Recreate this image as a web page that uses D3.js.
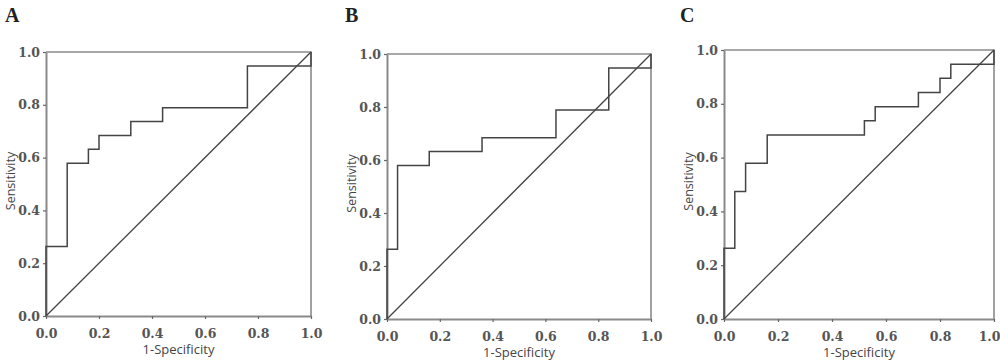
<!DOCTYPE html>
<html>
<head>
<meta charset="utf-8">
<script src="https://cdn.jsdelivr.net/npm/d3@7"></script>
<style>
  body { margin: 0; background: #fff; }
  svg { display: block; }
</style>
</head>
<body>
<svg width="1000" height="362"></svg>
<script>
// ROC data (1-specificity, sensitivity)
const aFpr = [0, 0, 0.08, 0.16, 0.20, 0.32, 0.44, 0.76, 1.0]
const aTpr = [0, 0.263, 0.579, 0.632, 0.684, 0.737, 0.789, 0.947, 1.0]

const bFpr = [0, 0, 0.04, 0.16, 0.36, 0.64, 0.84, 1.0]
const bTpr = [0, 0.263, 0.579, 0.632, 0.684, 0.789, 0.947, 1.0]

const cFpr = [0, 0, 0.04, 0.08, 0.16, 0.52, 0.56, 0.72, 0.80, 0.84, 1.0]
const cTpr = [0, 0.263, 0.474, 0.579, 0.684, 0.737, 0.789, 0.842, 0.895, 0.947, 1.0]

const tickValues = [0, 0.2, 0.4, 0.6, 0.8, 1.0]
const panelLetters = ["A", "B", "C"]

// panel boxes in page pixels
const panels = [
    { letter: panelLetters[0], fpr: aFpr, tpr: aTpr, x0: 46, x1: 311, top: 52, bottom: 316, lx: 5 },
    { letter: panelLetters[1], fpr: bFpr, tpr: bTpr, x0: 387, x1: 651, top: 54, bottom: 319, lx: 345 },
    { letter: panelLetters[2], fpr: cFpr, tpr: cTpr, x0: 724, x1: 994, top: 50, bottom: 319, lx: 680 }
]

const svg = d3.select("svg")
const axisColor = "#8a8a8a"
const lineColor = "#444"

panels.forEach((p, pi) => {
    let x = d3.scaleLinear().domain([0, 1]).range([p.x0, p.x1])
    let y = d3.scaleLinear().domain([0, 1]).range([p.bottom, p.top])
    let g = svg.append("g")

    // panel letter
    g.append("text")
        .attr("x", p.lx)
        .attr("y", 22)
        .attr("font-family", "Liberation Serif, serif")
        .attr("font-weight", "bold")
        .attr("font-size", 20)
        .attr("fill", "#222")
        .text(p.letter)

    // frame (top and right)
    g.append("path")
        .attr("d", `M${x(0)},${y(1)}H${x(1)}V${y(0)}`)
        .attr("fill", "none")
        .attr("stroke", axisColor)
        .attr("stroke-width", 1.6)

    let fmt = d3.format(".1f")
    let xAxis = g.append("g")
        .attr("transform", `translate(0,${p.bottom})`)
        .call(d3.axisBottom(x).tickValues(tickValues).tickFormat(fmt).tickSize(3).tickSizeOuter(0))
    let yAxis = g.append("g")
        .attr("transform", `translate(${p.x0},0)`)
        .call(d3.axisLeft(y).tickValues(tickValues).tickFormat(fmt).tickSize(3).tickSizeOuter(0))

    ;[xAxis, yAxis].forEach(ax => {
        ax.attr("font-family", null).attr("font-size", null)
        ax.select(".domain").attr("stroke", axisColor).attr("stroke-width", 2)
        ax.selectAll(".tick line").attr("stroke", "#666").attr("stroke-width", 1.2)
        ax.selectAll(".tick text")
            .style("font-family", "'DejaVu Serif', serif")
            .style("font-weight", "bold")
            .style("font-size", "12.5px")
            .attr("fill", "#555")
    })
    xAxis.selectAll(".tick text").attr("y", 22).attr("dy", null)
    yAxis.selectAll(".tick text").attr("x", -6)
    if (pi === 2) {
        // last label sits against the page edge
        xAxis.selectAll(".tick text").filter(d => d === 1).attr("dx", -5)
    }

    // axis titles
    g.append("text")
        .attr("x", (p.x0 + p.x1) / 2)
        .attr("y", p.bottom + 38)
        .attr("text-anchor", "middle")
        .attr("font-family", "Open Sans, sans-serif")
        .attr("font-size", 13)
        .attr("fill", "#444")
        .text("1-Specificity")

    g.append("text")
        .attr("transform", `translate(${p.x0 - 31},${(p.top + p.bottom) / 2 - 3}) rotate(-90)`)
        .attr("text-anchor", "middle")
        .attr("font-family", "Open Sans, sans-serif")
        .attr("font-size", 12.5)
        .attr("fill", "#444")
        .text("Sensitivity")

    // reference diagonal
    g.append("line")
        .attr("x1", x(0)).attr("y1", y(0))
        .attr("x2", x(1)).attr("y2", y(1))
        .attr("stroke", lineColor)
        .attr("stroke-width", 1.3)

    // ROC step curve
    let pts = p.fpr.map((f, i) => [f, p.tpr[i]])
    let line = d3.line()
        .x(d => x(d[0]))
        .y(d => y(d[1]))
        .curve(d3.curveStepAfter)
    g.append("path")
        .attr("d", line(pts))
        .attr("fill", "none")
        .attr("stroke", lineColor)
        .attr("stroke-width", 1.5)
})
</script>
</body>
</html>
